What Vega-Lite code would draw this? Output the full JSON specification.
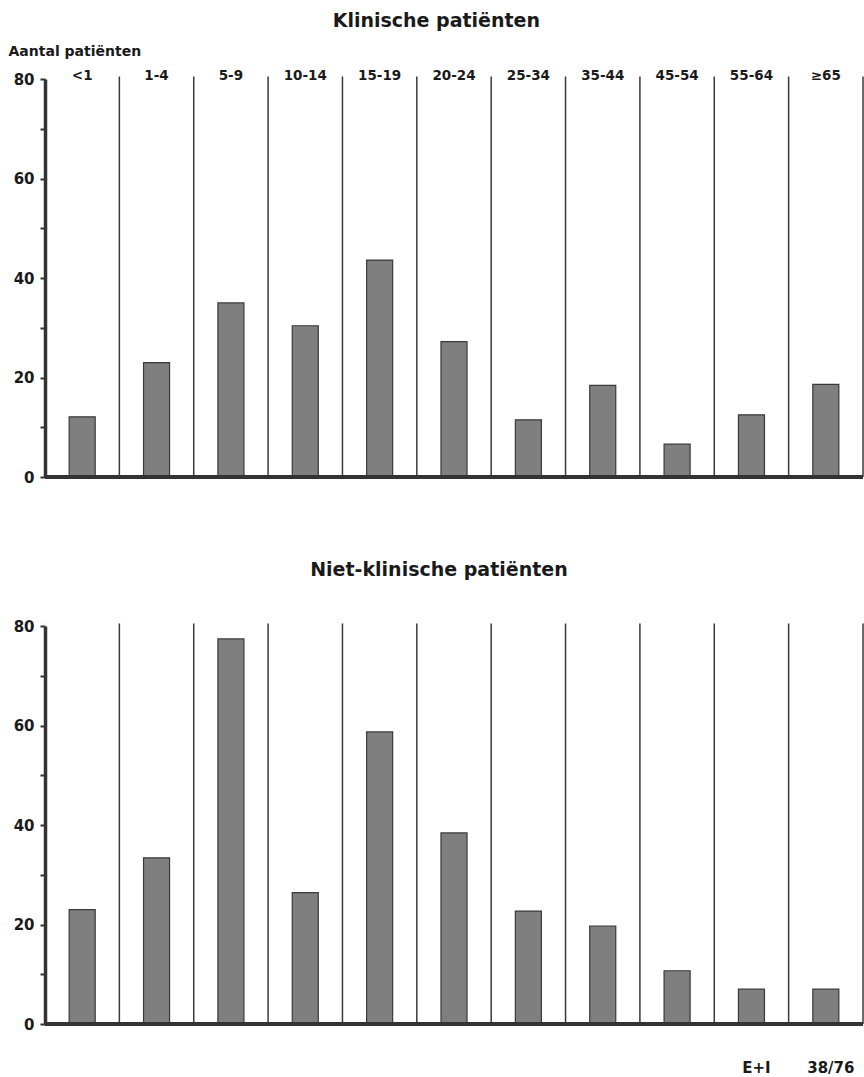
{
  "$schema": "https://vega.github.io/schema/vega-lite/v6.json",
  "padding": {"left": 8, "top": 12, "right": 0, "bottom": 0},
  "background": "white",
  "spacing": 76,
  "config": {
    "view": {"stroke": null},
    "font": "DejaVu Sans",
    "title": {"font": "DejaVu Sans", "fontSize": 19, "fontWeight": "bold", "color": "#1a1a1a", "anchor": "middle", "frame": "bounds"},
    "axis": {"labelFont": "DejaVu Sans", "labelFontWeight": "bold", "labelColor": "#1a1a1a", "grid": false}
  },
  "datasets": {
    "klinisch": [
      {"cat": "<1", "n": 12.1},
      {"cat": "1-4", "n": 23.0},
      {"cat": "5-9", "n": 35.0},
      {"cat": "10-14", "n": 30.4},
      {"cat": "15-19", "n": 43.6},
      {"cat": "20-24", "n": 27.2},
      {"cat": "25-34", "n": 11.5},
      {"cat": "35-44", "n": 18.4},
      {"cat": "45-54", "n": 6.6},
      {"cat": "55-64", "n": 12.5},
      {"cat": "≥65", "n": 18.6}
    ],
    "nietklinisch": [
      {"cat": "<1", "n": 23.0},
      {"cat": "1-4", "n": 33.4},
      {"cat": "5-9", "n": 77.4},
      {"cat": "10-14", "n": 26.4},
      {"cat": "15-19", "n": 58.7},
      {"cat": "20-24", "n": 38.4},
      {"cat": "25-34", "n": 22.7},
      {"cat": "35-44", "n": 19.7},
      {"cat": "45-54", "n": 10.7},
      {"cat": "55-64", "n": 7.0},
      {"cat": "≥65", "n": 7.0}
    ]
  },
  "vconcat": [
    {
      "width": 818,
      "height": 398,
      "title": {"text": "Klinische patiënten", "offset": 13},
      "data": {"name": "klinisch"},
      "layer": [
        {
          "mark": {"type": "bar", "width": {"band": 0.35}, "fill": "#7f7f7f", "stroke": "#3a3a3a", "strokeWidth": 1.2},
          "encoding": {
            "x": {
              "field": "cat", "type": "nominal", "sort": null,
              "scale": {"domain": ["<1", "1-4", "5-9", "10-14", "15-19", "20-24", "25-34", "35-44", "45-54", "55-64", "≥65"], "paddingInner": 0, "paddingOuter": 0},
              "axis": {"orient": "top", "title": null, "domain": false, "ticks": false, "labelAngle": 0, "labelFontSize": 13.5, "labelPadding": -3, "bandPosition": 0.5}
            },
            "y": {
              "field": "n", "type": "quantitative", "title": "Aantal patiënten",
              "scale": {"domain": [0, 80], "nice": false},
              "axis": {
                "titleAngle": 0, "titleAlign": "left", "titleBaseline": "alphabetic", "titleX": -37, "titleY": -24,
                "titleFont": "DejaVu Sans", "titleFontSize": 14, "titleFontWeight": "bold", "titleColor": "#1a1a1a",
                "values": [0, 10, 20, 30, 40, 50, 60, 70, 80],
                "labelExpr": "datum.value % 20 === 0 ? datum.label : ''",
                "labelFontSize": 15, "labelPadding": 6, "labelOverlap": false, "labelFlush": false,
                "tickSize": 5, "tickWidth": 2, "tickColor": "#333333",
                "domainWidth": 3.5, "domainColor": "#333333"
              }
            }
          }
        },
        {
          "mark": {"type": "rule", "color": "#3a3a3a", "strokeWidth": 1.5},
          "transform": [{"filter": "datum.cat !== '<1'"}],
          "encoding": {
            "x": {"field": "cat", "type": "nominal", "bandPosition": 0},
            "y": {"datum": 0, "type": "quantitative", "title": "Aantal patiënten"},
            "y2": {"datum": 80.5}
          }
        },
        {
          "mark": {"type": "rule", "color": "#3a3a3a", "strokeWidth": 1.5},
          "transform": [{"filter": "datum.cat === '≥65'"}],
          "encoding": {
            "x": {"field": "cat", "type": "nominal", "bandPosition": 1},
            "y": {"datum": 0, "type": "quantitative", "title": "Aantal patiënten"},
            "y2": {"datum": 80.5}
          }
        },
        {
          "mark": {"type": "rule", "color": "#333333", "strokeWidth": 3.5},
          "encoding": {"y": {"datum": 0, "type": "quantitative", "title": "Aantal patiënten"}}
        }
      ]
    },
    {
      "width": 818,
      "height": 398,
      "title": {"text": "Niet-klinische patiënten", "offset": 39},
      "data": {"name": "nietklinisch"},
      "layer": [
        {
          "mark": {"type": "bar", "width": {"band": 0.35}, "fill": "#7f7f7f", "stroke": "#3a3a3a", "strokeWidth": 1.2},
          "encoding": {
            "x": {
              "field": "cat", "type": "nominal", "sort": null,
              "scale": {"domain": ["<1", "1-4", "5-9", "10-14", "15-19", "20-24", "25-34", "35-44", "45-54", "55-64", "≥65"], "paddingInner": 0, "paddingOuter": 0},
              "axis": {"orient": "bottom", "title": null, "domain": false, "ticks": false, "labelAngle": 0, "labelFontSize": 15, "labelPadding": 36, "labelOffset": 5, "bandPosition": 0.5,
                "labelExpr": "datum.value === '55-64' ? 'E+I' : (datum.value === '≥65' ? '38/76' : '')"}
            },
            "y": {
              "field": "n", "type": "quantitative", "title": null,
              "scale": {"domain": [0, 80], "nice": false},
              "axis": {
                "values": [0, 10, 20, 30, 40, 50, 60, 70, 80],
                "labelExpr": "datum.value % 20 === 0 ? datum.label : ''",
                "labelFontSize": 15, "labelPadding": 6, "labelOverlap": false, "labelFlush": false,
                "tickSize": 5, "tickWidth": 2, "tickColor": "#333333",
                "domainWidth": 3.5, "domainColor": "#333333"
              }
            }
          }
        },
        {
          "mark": {"type": "rule", "color": "#3a3a3a", "strokeWidth": 1.5},
          "transform": [{"filter": "datum.cat !== '<1'"}],
          "encoding": {
            "x": {"field": "cat", "type": "nominal", "bandPosition": 0},
            "y": {"datum": 0, "type": "quantitative", "title": null},
            "y2": {"datum": 80.5}
          }
        },
        {
          "mark": {"type": "rule", "color": "#3a3a3a", "strokeWidth": 1.5},
          "transform": [{"filter": "datum.cat === '≥65'"}],
          "encoding": {
            "x": {"field": "cat", "type": "nominal", "bandPosition": 1},
            "y": {"datum": 0, "type": "quantitative", "title": null},
            "y2": {"datum": 80.5}
          }
        },
        {
          "mark": {"type": "rule", "color": "#333333", "strokeWidth": 3.5},
          "encoding": {"y": {"datum": 0, "type": "quantitative", "title": null}}
        }
      ]
    }
  ]
}
